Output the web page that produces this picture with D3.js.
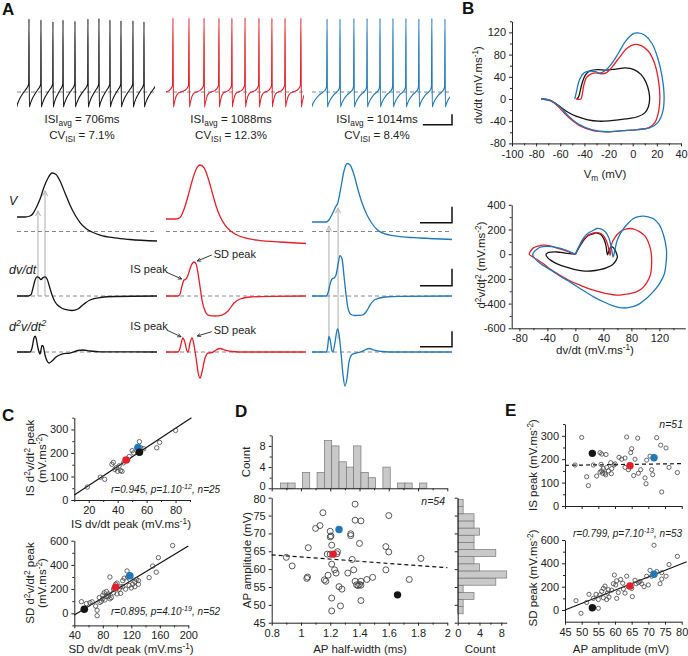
<!DOCTYPE html>
<html><head><meta charset="utf-8">
<script src="https://cdn.jsdelivr.net/npm/d3@7/dist/d3.min.js"></script>
<style>body{margin:0;background:#fff}svg{display:block}</style>
</head><body>
<svg id="fig" width="688" height="656"></svg>
<script>
// ================= DATA =================
// A (top): spike times (s, incl. one just outside each end), spike peaks (mV), inter-spike cycle shape [phase, mV]
const trainDur = 8.52;
const blackSpikes = [-0.05,0.74,1.48,2.22,2.84,3.58,4.38,5.06,5.74,6.42,7.16,7.84,8.6];
const blackPeaks  = [30,30,28.8,26.9,28.8,27.6,30,30.8,28.8,28,28,26.9,30];
const redSpikes   = [-0.45,0.43,1.42,2.35,3.27,4.07,4.88,5.74,6.54,7.35,8.33,9.2];
const redPeaks    = [31,31,31,31,31,31,31.5,31,31,31,31,31];
const blueSpikes  = [-0.05,0.93,1.73,2.59,3.4,4.2,5.0,5.8,6.6,7.4,8.21,9.0];
const bluePeaks   = [30,30,30,30.8,30.8,30.8,30.8,30.8,30,30.8,30,30];
const blackCycle = [[0.03,-72.5],[0.1,-69],[0.3,-62],[0.55,-56],[0.8,-51],[0.95,-47],[0.98,-45]];
const redCycle   = [[0.03,-72.5],[0.08,-68],[0.2,-60],[0.35,-56],[0.55,-54.5],[0.75,-53],[0.9,-50],[0.97,-47]];
const blueCycle  = [[0.03,-72.5],[0.1,-69],[0.25,-64],[0.5,-58.5],[0.75,-55],[0.92,-51.5],[0.97,-48]];
const isiAvg = ["706ms","1088ms","1014ms"];
const cvIsi  = ["7.1%","12.3%","8.4%"];

// A (middle): single AP, [time ms, value]
const blackV = [[0,-41.9],[0.5,-41.9],[0.81,-40.6],[1.0,-37.5],[1.19,-30.6],[1.31,-25.6],[1.44,-19.4],[1.69,-4.4],[1.94,6.9],[2.19,13.1],[2.44,11.3],[2.69,3.1],[3.0,-11.9],[3.31,-26.9],[3.63,-39.4],[3.94,-48.8],[4.31,-56.3],[4.69,-60.6],[5.19,-64.4],[6.13,-68.1],[7.06,-70],[8.75,-71.9]];
const redV   = [[0,-44.4],[0.63,-44.4],[0.88,-42.5],[1.13,-31.9],[1.38,-15.6],[1.63,3.1],[1.88,17.5],[2.13,23.1],[2.38,19.4],[2.63,6.9],[2.88,-10.6],[3.13,-28.1],[3.38,-41.3],[3.69,-51.9],[4.0,-58.8],[4.38,-63.8],[4.94,-68.1],[5.88,-71.3],[7.13,-73.1],[8.75,-75]];
const blueV  = [[0,-48.1],[0.88,-48.1],[1.06,-45.6],[1.25,-38.8],[1.44,-30.6],[1.63,-23.1],[1.81,-4.4],[2.0,15.6],[2.19,25],[2.38,23.1],[2.63,10.6],[2.88,-8.1],[3.13,-24.4],[3.44,-39.4],[3.75,-50],[4.06,-57.5],[4.56,-63.1],[5.5,-66.3],[6.75,-68.1],[8.75,-70]];
const blackDV = [[0,0],[0.69,0],[0.88,4.4],[1.0,23.5],[1.13,47],[1.25,56],[1.38,54],[1.5,48.5],[1.63,54],[1.75,56],[1.88,50],[2.0,32.4],[2.19,3],[2.38,-17.6],[2.69,-32.4],[3.0,-39.7],[3.44,-42.6],[3.81,-38.2],[4.19,-23.5],[4.56,-11.8],[5.19,-4.4],[6.13,-1.5],[8.75,0]];
const redDV   = [[0,0],[0.75,0],[0.88,5.9],[1.0,29.4],[1.13,47],[1.25,50],[1.38,61.8],[1.56,88],[1.75,100],[1.88,94],[2.0,67.6],[2.13,26.5],[2.25,-11.8],[2.44,-44],[2.63,-56],[3.06,-58.8],[3.5,-56],[3.88,-44],[4.25,-20.6],[4.63,-8.8],[5.25,-2.9],[6.5,-0.9],[8.75,0]];
const blueDV  = [[0,0],[0.88,0],[1.0,8.8],[1.13,35.3],[1.25,50],[1.38,53],[1.5,61.8],[1.63,94],[1.75,119],[1.88,108.8],[2.0,58.8],[2.13,3],[2.25,-35.3],[2.44,-54.4],[2.69,-57.4],[3.13,-56],[3.38,-47],[3.63,-26.5],[3.94,-10.3],[4.56,-2.9],[5.5,-0.9],[8.75,0]];
const blackD2 = [[0,0],[0.81,0],[0.94,51.6],[1.06,180.6],[1.13,206],[1.19,180.6],[1.31,51.6],[1.38,0],[1.44,-25.8],[1.5,25.8],[1.56,84],[1.63,77.4],[1.75,-38.7],[1.88,-116],[2.0,-142],[2.19,-116],[2.44,-64.5],[2.81,-25.8],[3.31,-12.9],[3.81,19.4],[4.13,25.8],[4.56,12.9],[5.19,2.6],[8.75,0]];
const redD2   = [[0,0],[0.75,0],[0.88,51.6],[1.0,155],[1.06,180.6],[1.19,116],[1.31,12.9],[1.38,0],[1.5,116],[1.63,180.6],[1.75,90],[1.88,-77],[2.0,-258],[2.13,-335],[2.25,-258],[2.44,-77],[2.63,-12.9],[2.88,-6.5],[3.13,25.8],[3.38,45],[3.69,25.8],[4.13,6.5],[4.94,0],[8.75,0]];
const blueD2  = [[0,0],[0.88,0],[0.97,51.6],[1.06,200],[1.16,129],[1.25,12.9],[1.31,0],[1.44,129],[1.59,297],[1.69,232],[1.81,0],[1.94,-297],[2.06,-439],[2.19,-335],[2.31,-129],[2.5,-32],[2.75,-12.9],[3.0,0],[3.31,25.8],[3.56,45],[3.88,25.8],[4.38,6.5],[5.19,0],[8.75,0]];

// B: phase plots
const bVmBlack = [[-46,0],[-44.5,6],[-42,28],[-39,44],[-35,51],[-29,53],[-22,52],[-14,54],[-6,56],[1,53],[7,44],[11,30],[13.5,12],[14,0],[13,-14],[10,-25],[4,-32],[-6,-36],[-18,-39],[-28,-40],[-38,-37],[-47,-31],[-55,-22],[-62,-11],[-68,-3],[-75,0]];
const bVmRed   = [[-47,0],[-43,0],[-42,6],[-40.5,25],[-38.5,38],[-35.5,44],[-31,47],[-26,45.5],[-22,47],[-17,58],[-11,75],[-5,91],[1,98],[7,96],[13,86],[18,65],[21,38],[22.5,5],[21.5,-22],[18.5,-42],[13,-52],[4,-55],[-8,-57],[-22,-59],[-33,-57],[-43,-49],[-52,-35],[-59,-20],[-65,-7],[-70,-1.5],[-76,0]];
const bVmBlue  = [[-48,0],[-46.5,14],[-44,35],[-40.5,47],[-36,50],[-31,49.5],[-27,47],[-23,51],[-18,62],[-12,82],[-6,104],[0,117],[4,119],[10,115],[16,100],[21,72],[24.5,38],[26,5],[25,-22],[21,-42],[14,-52],[4,-55],[-8,-57],[-22,-59],[-34,-55],[-45,-45],[-53,-31],[-60,-15],[-66,-5],[-70,-1],[-76,0]];
const bDvBlack = [[0,0],[6,60],[12,115],[18,150],[25,165],[30,172],[36,160],[41,120],[44,60],[45,15],[46,-5],[48,30],[51,60],[54,55],[57,30],[59,0],[60,-20],[58,-50],[53,-85],[45,-108],[35,-125],[22,-136],[10,-135],[-2,-122],[-14,-103],[-26,-78],[-35,-50],[-40,-25],[-42,-5],[-40,10],[-34,17],[-26,18],[-18,12],[-9,5],[0,0]];
const bDvRed   = [[0,0],[4,50],[9,100],[15,140],[22,165],[30,175],[37,165],[42,135],[46,80],[48.5,20],[49.5,-8],[50.5,20],[52,86],[57,140],[64,181],[71,202],[78,208],[85,200],[92,181],[99,150],[104,100],[108,20],[109,-62],[107,-170],[102,-230],[95,-278],[87,-305],[78,-319],[68,-328],[59,-332],[47,-322],[35,-305],[20,-280],[6.7,-251],[-8,-215],[-22,-170],[-35,-125],[-46,-76],[-56,-40],[-63,-15],[-66,0],[-64,25],[-60,51],[-53,66],[-46,73],[-38,70],[-31,59],[-21,42],[-12,24],[-5,9],[0,0]];
const bDvBlue  = [[0,0],[5,60],[11,127],[18,170],[26,194],[31,208],[37,203],[43,180],[48,130],[51,60],[53,0],[54,-22],[56,20],[59,100],[64,165],[69,208],[76,255],[83,289],[90,305],[97,308],[104,302],[111,289],[119,245],[126,154],[130,40],[130,-40],[127,-160],[120,-240],[111,-305],[101,-360],[92,-400],[82,-425],[73,-435],[63,-432],[54,-418],[40,-385],[26,-345],[10,-290],[-8,-224],[-20,-185],[-31,-143],[-42,-105],[-50,-76],[-57,-40],[-61,-8],[-59,20],[-55,40],[-50,57],[-40,63],[-31,59],[-20,45],[-12,30],[-5,12],[0,0]];

// C: IS / SD peaks
const cIsOpen = [[19,55],[28,97],[31,88],[36,152],[37,160],[38,130],[39,137],[40,122],[42,125],[43,122],[41,145],[44,158],[48,185],[50,210],[51,200],[55,248],[56,222],[58,218],[67,222],[69,245],[80,296],[47,170]];
const cIsCells = [[45.8,170],[54,223],[55,203]];   // red, blue, black
const cIsFit = [[10,21],[91,350]];
const cSdOpen = [[50,96],[57,80],[62,88],[70,60],[72,25],[72,-20],[75,130],[76,90],[78,100],[80,120],[80,150],[82,170],[83,110],[85,180],[85,140],[88,160],[88,140],[90,300],[90,120],[92,130],[95,200],[95,170],[98,240],[100,250],[100,160],[103,200],[105,220],[105,165],[108,270],[108,220],[110,290],[112,200],[114,350],[115,300],[117,230],[118,280],[120,210],[122,240],[125,260],[125,220],[127,280],[130,270],[130,240],[145,295],[150,390],[155,340],[158,460],[178,560],[65,95]];
const cSdCells = [[98,215],[118,310],[54,33]];
const cSdFit = [[40,-14],[200,556]];

// D: AP half-width vs amplitude
const dOpen = [[0.90,63.3],[0.94,60.9],[1.04,57.4],[1.045,57.8],[1.05,66],[1.10,71.4],[1.13,72.2],[1.15,75.8],[1.16,57],[1.17,56.6],[1.185,58.3],[1.18,64.2],[1.20,70.6],[1.20,69],[1.205,69.3],[1.21,66.7],[1.21,61.4],[1.21,51.9],[1.21,48.3],[1.23,59.8],[1.24,58.9],[1.20,64.2],[1.245,64.3],[1.25,64.9],[1.26,55.1],[1.28,54.4],[1.27,49.7],[1.32,58.9],[1.34,69.9],[1.34,69.4],[1.35,62.7],[1.36,59.8],[1.37,56.6],[1.37,78.2],[1.37,73.7],[1.38,55.6],[1.39,55.4],[1.40,55.7],[1.40,67.2],[1.41,73.5],[1.41,56.6],[1.41,55.5],[1.41,51.2],[1.45,57.1],[1.49,57.7],[1.58,66.3],[1.60,64.8],[1.60,75],[1.58,59.8],[1.74,57.1],[1.82,63]];
const dCells = [[1.22,64.2],[1.26,71.1],[1.66,52.8]];
const dFit = [[0.8,64],[2.0,60.4]];
const hwBinStart = 0.86, hwBinWidth = 0.05;
const hwCounts = [1,1,0,3,0,3,9,8,5,4,8,3,2,0,4,0,1,1,0,1];
const ampBinStart = 47.5, ampBinWidth = 2;
const ampCounts = [1,1,3,1,7,9,4,3,7,3,3,4,3,3,1,1];

// E: AP amplitude vs IS / SD peak
const eIsOpen = [[48,175],[50,293],[51.5,125],[52,87],[55.5,228],[56,222],[57.3,220],[54.5,128],[55.8,178],[56,150],[56.5,160],[57,140],[57.5,165],[58,150],[57.2,133],[56.3,140],[55.5,145],[58.7,185],[59.7,175],[58.9,138],[61.2,208],[63,205],[63.5,295],[64,155],[64.7,228],[65,245],[65.6,130],[66.8,290],[67,140],[67.7,155],[69,120],[69.3,95],[69.5,196],[70.5,213],[71,155],[71.3,134],[72.5,292],[73.7,260],[75.3,248],[74,60],[76.2,165],[78.7,143],[63,165],[62,200],[60,180],[59,160],[66,200],[53.5,175]];
const eIsCells = [[64.5,172],[71.7,206],[53.2,225]];
const eIsFit = [[45,174],[80,181]];
const eSdOpen = [[48.3,80],[49.8,-28],[51.5,65],[52.2,135],[55,15],[54.3,135],[55,90],[55.5,130],[56,160],[56.5,185],[57,205],[57.5,90],[57.7,145],[58.2,110],[59,170],[59.8,300],[60.5,250],[60.2,215],[60.5,100],[61.7,262],[62.3,230],[63.5,290],[63,145],[64,200],[65.2,115],[65,185],[66,255],[66.3,225],[67,235],[67.5,245],[68.7,200],[69.5,290],[70,215],[70.5,340],[71,290],[71.7,555],[72.5,330],[73.5,225],[74,265],[75.3,290],[76.2,390],[78.7,460],[74,320],[58,175],[61,150],[62.5,180],[68,225],[56.5,105],[59.5,225],[53.5,100]];
const eSdCells = [[64.5,206],[71.7,306],[53.2,20]];
const eSdFit = [[45,0],[81.5,414]];

// ================= DRAWING =================
const FONT = "'Liberation Sans', Arial, Helvetica, sans-serif";
const RED = '#e3202a', BLUE = '#1f78b9', BLK = '#141414', INK = '#222';
const cellColors = [RED, BLUE, BLK];
const svg = d3.select('#fig').attr('font-family', FONT);
const defs = svg.append('defs');

function rich(t, parts, size) {
  let cur = 0;
  parts.forEach(p => {
    const [s, m] = Array.isArray(p) ? p : [p, null];
    const target = m === 'sup' ? -size * 0.38 : m === 'sub' ? size * 0.3 : 0;
    t.append('tspan').attr('dy', (target - cur).toFixed(2)).attr('font-size', m ? size * 0.72 : size).text(s);
    cur = target;
  });
}
function label(x, y, parts, o = {}) {
  const size = o.size || 12;
  const t = svg.append('text')
    .attr('transform', `translate(${x},${y})` + (o.rotate ? ` rotate(${o.rotate})` : ''))
    .attr('text-anchor', o.anchor || 'middle').attr('font-size', size).attr('fill', o.fill || INK);
  if (o.italic) t.attr('font-style', 'italic');
  if (o.bold) t.attr('font-weight', 'bold');
  rich(t, parts, size);
  return t;
}
function axis(orient, scale, at, majors, minors, fmt, pad) {
  const mk = orient === 'bottom' ? d3.axisBottom : d3.axisLeft;
  const tr = orient === 'bottom' ? `translate(0,${at})` : `translate(${at},0)`;
  const a = mk(scale).tickValues(majors).tickSize(3).tickSizeOuter(0)
    .tickPadding(pad != null ? pad : (orient === 'bottom' ? 4 : 3))
    .tickFormat(fmt === null ? () => '' : (fmt || (d => String(d))));
  const g = svg.append('g').attr('transform', tr).call(a);
  g.attr('font-family', FONT).attr('font-size', 11);
  g.select('.domain').attr('stroke', INK);
  g.selectAll('.tick line').attr('stroke', INK);
  g.selectAll('.tick text').attr('fill', INK);
  if (minors && minors.length) {
    const m = svg.append('g').attr('transform', tr)
      .call(mk(scale).tickValues(minors).tickSize(2).tickSizeOuter(0).tickFormat(() => ''));
    m.select('.domain').remove();
    m.selectAll('.tick line').attr('stroke', INK);
  }
  return g;
}
function marker(id, color) {
  defs.append('marker').attr('id', id).attr('viewBox', '0 0 10 10').attr('refX', 9).attr('refY', 5)
    .attr('markerWidth', 5).attr('markerHeight', 5).attr('orient', 'auto')
    .append('path').attr('d', 'M1,1 L9,5 L1,9').attr('fill', 'none').attr('stroke', color).attr('stroke-width', 1.6);
}
marker('arrG', '#b8b8b8');
marker('arrK', '#222');

// Panel letters
[['A', 2, 15], ['B', 462, 14], ['C', 2, 421], ['D', 235, 417], ['E', 505, 416]]
  .forEach(([s, x, y]) => label(x, y, [s], { size: 17, bold: true, anchor: 'start', fill: '#111' }));

// ---------- A top: spike trains ----------
const topY = d3.scaleLinear().domain([-75, 32]).range([109.2, 17.3]);
function train(sp, pk, cyc) {
  const pts = [];
  sp.forEach((t, i) => {
    pts.push([t, pk[i]]);
    if (i < sp.length - 1) { const isi = sp[i + 1] - t; cyc.forEach(([p, v]) => pts.push([t + p * isi, v])); }
  });
  return pts;
}
const trains = [
  { x0: 17, sp: blackSpikes, pk: blackPeaks, cy: blackCycle, c: BLK },
  { x0: 166, sp: redSpikes, pk: redPeaks, cy: redCycle, c: RED },
  { x0: 312, sp: blueSpikes, pk: bluePeaks, cy: blueCycle, c: BLUE }];
let lastTopX;
trains.forEach((d, i) => {
  const x = d3.scaleLinear().domain([0, trainDur]).range([d.x0, d.x0 + 138]);
  lastTopX = x;
  defs.append('clipPath').attr('id', 'ct' + i).append('rect')
    .attr('x', x(0)).attr('y', 0).attr('width', x(trainDur) - x(0)).attr('height', 115);
  svg.append('line').attr('x1', x(0)).attr('x2', x(trainDur)).attr('y1', topY(-55)).attr('y2', topY(-55))
    .attr('stroke', '#888').attr('stroke-dasharray', '4,3').attr('stroke-width', 1);
  svg.append('path').datum(train(d.sp, d.pk, d.cy)).attr('clip-path', `url(#ct${i})`)
    .attr('fill', 'none').attr('stroke', d.c).attr('stroke-width', 1.1).attr('stroke-linejoin', 'round')
    .attr('d', d3.line().x(p => x(p[0])).y(p => topY(p[1])).curve(d3.curveMonotoneX));
  const cx = x(trainDur / 2) - 4;
  label(cx, 122.5, ['ISI', ['avg', 'sub'], ' = ' + isiAvg[i]], { size: 11.5 });
  label(cx, 139, ['CV', ['ISI', 'sub'], ' = ' + cvIsi[i]], { size: 11.5 });
});
{
  const xe = lastTopX(trainDur) + 2, y0 = topY(-93);
  const w = lastTopX(1.8) - lastTopX(0), h = topY(-93) - topY(-81);
  svg.append('path').attr('d', `M${xe - w},${y0}H${xe}V${y0 - h}`).attr('fill', 'none').attr('stroke', '#111').attr('stroke-width', 1.5);
}

// ---------- A middle: single AP and derivatives ----------
const yV = d3.scaleLinear().domain([-80, 30]).range([247.5, 159.5]);
const yD = d3.scaleLinear().domain([-60, 120]).range([316.4, 255.2]);
const yA = d3.scaleLinear().domain([-450, 300]).range([386.9, 328.75]);
const rows = [{ y: yV, base: -60 }, { y: yD, base: 0 }, { y: yA, base: 0 }];
const cols = [
  { x0: 17, c: BLK, data: [blackV, blackDV, blackD2] },
  { x0: 166, c: RED, data: [redV, redDV, redD2] },
  { x0: 312, c: BLUE, data: [blueV, blueDV, blueD2] }];
const colX = cols.map(c => d3.scaleLinear().domain([0, 8.75]).range([c.x0, c.x0 + 140]));
const guide = (x, t, y1, y2) => svg.append('line').attr('x1', x(t)).attr('x2', x(t)).attr('y1', y1).attr('y2', y2 + 1)
  .attr('stroke', '#c0c0c0').attr('stroke-width', 1.3).attr('marker-end', 'url(#arrG)');
guide(colX[0], 1.31, yD(0), yV(-33));
guide(colX[0], 1.75, yD(0), yV(-8));
guide(colX[2], 1.06, yA(160), yV(-52));
guide(colX[2], 1.63, yA(160), yV(-29.4));
cols.forEach((c, ci) => {
  const x = colX[ci];
  rows.forEach((r, ri) => {
    svg.append('line').attr('x1', x(0)).attr('x2', x(8.75)).attr('y1', r.y(r.base)).attr('y2', r.y(r.base))
      .attr('stroke', '#888').attr('stroke-dasharray', '4,3');
    svg.append('path').datum(c.data[ri]).attr('fill', 'none').attr('stroke', c.c).attr('stroke-width', 1.3)
      .attr('d', d3.line().x(p => x(p[0])).y(p => r.y(p[1])).curve(d3.curveMonotoneX));
  });
});
label(9, 205, ['V'], { size: 12.5, italic: true, anchor: 'start' });
label(9, 274, ['dv/dt'], { size: 12.5, italic: true, anchor: 'start' });
label(9, 331, ['d', ['2', 'sup'], 'v/dt', ['2', 'sup']], { size: 12.5, italic: true, anchor: 'start' });
{
  const x = colX[1];
  const ann = (t1, v1, t2, v2, y) => svg.append('line').attr('x1', x(t1)).attr('y1', y(v1)).attr('x2', x(t2)).attr('y2', y(v2))
    .attr('stroke', '#222').attr('stroke-width', 0.9).attr('marker-end', 'url(#arrK)');
  ann(0.04, 69.7, 0.98, 50, yD);
  ann(2.86, 120.6, 1.95, 103, yD);
  ann(0.04, 284, 0.94, 197, yA);
  ann(2.86, 262, 1.95, 206, yA);
  label(x(0.04) + 1, 273, ['IS peak'], { size: 11, anchor: 'end' });
  label(x(2.86) + 2, 258, ['SD peak'], { size: 11, anchor: 'start' });
  label(x(0.04) + 1, 330, ['IS peak'], { size: 11, anchor: 'end' });
  label(x(2.86) + 2, 334, ['SD peak'], { size: 11, anchor: 'start' });
}
{
  const x = colX[2], xe = x(8.75), w = x(2) - x(0);
  const bar = (y0, h) => svg.append('path').attr('d', `M${xe - w},${y0}H${xe}V${y0 - h}`)
    .attr('fill', 'none').attr('stroke', '#111').attr('stroke-width', 1.5);
  bar(yV(-49), yV(-49) - yV(-29));
  bar(yD(30), yD(30) - yD(80));
  bar(yA(68), yA(68) - yA(268));
}

// ---------- B ----------
{
  const x = d3.scaleLinear().domain([-100, 40]).range([512, 681]);
  const y = d3.scaleLinear().domain([-80, 140]).range([143.4, 21.3]);
  axis('left', y, 512, [-80, -40, 0, 40, 80, 120], [-60, -20, 20, 60, 100, 140]);
  axis('bottom', x, 143.4, d3.range(-100, 41, 20), d3.range(-90, 40, 20));
  const ln = d3.line().x(p => x(p[0])).y(p => y(p[1])).curve(d3.curveCatmullRom.alpha(0.5));
  [[bVmBlack, BLK], [bVmRed, RED], [bVmBlue, BLUE]].forEach(([d, c]) =>
    svg.append('path').datum(d).attr('fill', 'none').attr('stroke', c).attr('stroke-width', 1.3).attr('d', ln));
  label(482, 85, ['dv/dt (mV.ms', ['-1', 'sup'], ')'], { rotate: -90, size: 11.5 });
  label(605, 178, ['V', ['m', 'sub'], ' (mV)'], { size: 11.5 });
}
{
  const x = d3.scaleLinear().domain([-91, 157]).range([511.7, 685.3]);
  const y = d3.scaleLinear().domain([-600, 400]).range([328.3, 204.8]);
  axis('left', y, 511.7, [-600, -400, -200, 0, 200, 400], [-500, -300, -100, 100, 300]);
  axis('bottom', x, 328.3, [-80, -40, 0, 40, 80, 120], [-60, -20, 20, 60, 100, 140], undefined, 3);
  const ln = d3.line().x(p => x(p[0])).y(p => y(p[1])).curve(d3.curveCatmullRom.alpha(0.5));
  [[bDvBlack, BLK], [bDvRed, RED], [bDvBlue, BLUE]].forEach(([d, c]) =>
    svg.append('path').datum(d).attr('fill', 'none').attr('stroke', c).attr('stroke-width', 1.3).attr('d', ln));
  label(485, 265, ['d', ['2', 'sup'], 'v/dt', ['2', 'sup'], ' (mV.ms', ['-2', 'sup'], ')'], { rotate: -90, size: 11.5 });
  label(595, 354, ['dv/dt (mV.ms', ['-1', 'sup'], ')'], { size: 11.5 });
}

// ---------- scatter helpers ----------
function scatter(x, y, open, cells, rOpen, rCell, sw) {
  svg.append('g').selectAll('circle').data(open).join('circle')
    .attr('cx', d => x(d[0])).attr('cy', d => y(d[1])).attr('r', rOpen)
    .attr('fill', 'none').attr('stroke', '#444').attr('stroke-width', sw);
  svg.append('g').selectAll('circle').data(cells).join('circle')
    .attr('cx', d => x(d[0])).attr('cy', d => y(d[1])).attr('r', rCell)
    .attr('fill', (d, i) => cellColors[i]);
}
function fit(x, y, pts, dashed) {
  svg.append('line').attr('x1', x(pts[0][0])).attr('y1', y(pts[0][1])).attr('x2', x(pts[1][0])).attr('y2', y(pts[1][1]))
    .attr('stroke', '#111').attr('stroke-width', 1.2).attr('stroke-dasharray', dashed ? '4,3' : null);
}
function stat(x, y, r, p, e, n) {
  label(x, y, ['r=' + r + ', p=' + p, [e, 'sup'], ', n=' + n], { size: 10, italic: true, anchor: 'start' });
}

// ---------- C ----------
{
  const x = d3.scaleLinear().domain([10, 90]).range([74.3, 190]);
  const y = d3.scaleLinear().domain([0, 350]).range([500, 417.7]);
  axis('left', y, 74.3, [0, 100, 200, 300], [50, 150, 250, 350]);
  axis('bottom', x, 500, [20, 40, 60, 80], [10, 30, 50, 70, 90], undefined, 3);
  fit(x, y, cIsFit, false);
  scatter(x, y, cIsOpen, cIsCells, 2.2, 3.8, 0.8);
  stat(111, 493, '0.945', '1.10', '-12', 25);
  label(34, 458, ['IS d', ['2', 'sup'], 'v/dt', ['2', 'sup'], ' peak'], { rotate: -90, size: 11.5 });
  label(46, 458, ['(mV.ms', ['-2', 'sup'], ')'], { rotate: -90, size: 11.5 });
  label(131, 528, ['IS dv/dt peak (mV.ms', ['-1', 'sup'], ')'], { size: 11.5 });
}
{
  const x = d3.scaleLinear().domain([40, 200]).range([74.3, 188.3]);
  const y = d3.scaleLinear().domain([-100, 600]).range([625.4, 540.7]);
  axis('left', y, 74.3, [0, 200, 400, 600], [-100, 100, 300, 500]);
  axis('bottom', x, 625.4, [40, 80, 120, 160, 200], [60, 100, 140, 180], undefined, 3);
  fit(x, y, cSdFit, false);
  scatter(x, y, cSdOpen, cSdCells, 2.2, 3.8, 0.8);
  stat(111, 615, '0.895', '4.10', '-19', 52);
  label(34, 583, ['SD d', ['2', 'sup'], 'v/dt', ['2', 'sup'], ' peak'], { rotate: -90, size: 11.5 });
  label(46, 583, ['(mV.ms', ['-2', 'sup'], ')'], { rotate: -90, size: 11.5 });
  label(131, 653, ['SD dv/dt peak (mV.ms', ['-1', 'sup'], ')'], { size: 11.5 });
}

// ---------- D ----------
{
  const x = d3.scaleLinear().domain([0.8, 2.0]).range([271.7, 447.3]);
  const y = d3.scaleLinear().domain([45, 80]).range([622.7, 497.7]);
  const hy = d3.scaleLinear().domain([0, 10]).range([488.3, 435.3]);
  const hx = d3.scaleLinear().domain([0, 9]).range([457.7, 506.7]);
  const xt = d3.range(0.8, 2.01, 0.2).map(v => +v.toFixed(1));
  const xm = d3.range(0.9, 2.0, 0.2).map(v => +v.toFixed(1));
  svg.append('g').selectAll('rect').data(hwCounts).join('rect')
    .attr('x', (c, i) => x(hwBinStart + i * hwBinWidth)).attr('width', x(hwBinWidth) - x(0))
    .attr('y', c => hy(c)).attr('height', c => hy(0) - hy(c))
    .attr('fill', '#c9c9c9').attr('stroke', '#777').attr('stroke-width', 0.7)
    .attr('display', c => c ? null : 'none');
  const hAx = axis('left', hy, 271.7, [0, 4, 8], [2, 6, 10]);
  hAx.selectAll('.tick text').filter(d => d === 0).attr('y', -2.5);
  axis('bottom', x, 488.3, xt, xm, null);
  label(250, 462, ['Count'], { rotate: -90, size: 11.5 });
  svg.append('g').selectAll('rect').data(ampCounts).join('rect')
    .attr('y', (c, i) => y(ampBinStart + (i + 1) * ampBinWidth)).attr('height', y(0) - y(ampBinWidth))
    .attr('x', hx(0)).attr('width', c => hx(c) - hx(0))
    .attr('fill', '#c9c9c9').attr('stroke', '#777').attr('stroke-width', 0.7);
  axis('left', y, 457.7, d3.range(45, 81, 5), [], null);
  axis('bottom', hx, 622.7, [0, 4, 8], [2, 6]);
  label(480, 653, ['Count'], { size: 11.5 });
  const sAx = axis('left', y, 271.7, d3.range(45, 81, 5), []);
  sAx.selectAll('.tick text').filter(d => d === 80).attr('y', 1.5);
  axis('bottom', x, 622.7, xt, xm, d => String(d));
  fit(x, y, dFit, true);
  scatter(x, y, dOpen, dCells, 3, 3.7, 0.9);
  label(445, 505, ['n=54'], { size: 10.5, italic: true, anchor: 'end' });
  label(251, 560, ['AP amplitude (mV)'], { rotate: -90, size: 11.5 });
  label(360, 653, ['AP half-width (ms)'], { size: 11.5 });
}

// ---------- E ----------
{
  const x = d3.scaleLinear().domain([45, 80]).range([565, 681.7]);
  const y1 = d3.scaleLinear().domain([0, 350]).range([506, 424.1]);
  const y2 = d3.scaleLinear().domain([-100, 600]).range([621.7, 540]);
  axis('left', y1, 565, [0, 100, 200, 300], [50, 150, 250, 350]);
  axis('bottom', x, 506, d3.range(45, 81, 5), [], null);
  fit(x, y1, eIsFit, true);
  scatter(x, y1, eIsOpen, eIsCells, 2.1, 3.7, 0.8);
  label(683, 428, ['n=51'], { size: 10.5, italic: true, anchor: 'end' });
  label(537, 465, ['IS peak (mV.ms', ['-2', 'sup'], ')'], { rotate: -90, size: 11.5 });
  axis('left', y2, 565, [0, 200, 400, 600], [100, 300, 500]);
  axis('bottom', x, 621.7, d3.range(45, 81, 5), []);
  fit(x, y2, eSdFit, false);
  scatter(x, y2, eSdOpen, eSdCells, 2.1, 3.7, 0.8);
  stat(573, 537, '0.799', '7.10', '-13', 53);
  label(537, 578, ['SD peak (mV.ms', ['-2', 'sup'], ')'], { rotate: -90, size: 11.5 });
  label(621, 653, ['AP amplitude (mV)'], { size: 11.5 });
}
</script>
</body></html>
